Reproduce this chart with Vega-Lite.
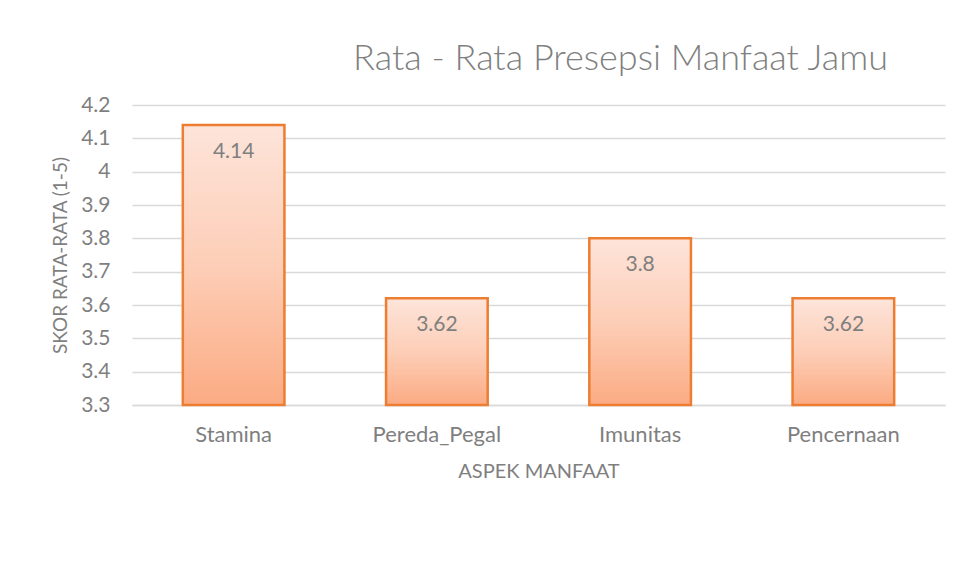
{
  "$schema": "https://vega.github.io/schema/vega-lite/v6.json",
  "autosize": "none",
  "width": 813,
  "height": 300,
  "padding": {"left": 132, "top": 105, "right": 13, "bottom": 172},
  "background": "white",
  "config": {
    "view": {"stroke": null},
    "font": "Lato"
  },
  "title": {
    "text": "Rata - Rata Presepsi  Manfaat Jamu",
    "fontSize": 36,
    "font": "Lato",
    "fontWeight": 300,
    "color": "#7f7f7f",
    "anchor": "middle",
    "dx": 82,
    "offset": 16
  },
  "data": {
    "values": [
      {"aspek": "Stamina", "skor": 4.14},
      {"aspek": "Pereda_Pegal", "skor": 3.62},
      {"aspek": "Imunitas", "skor": 3.8},
      {"aspek": "Pencernaan", "skor": 3.62}
    ]
  },
  "encoding": {
    "x": {
      "field": "aspek",
      "type": "nominal",
      "sort": null,
      "scale": {"paddingInner": 0.5, "paddingOuter": 0.25},
      "axis": {
        "title": "ASPEK MANFAAT",
        "titleFont": "Lato",
        "titleFontWeight": "normal",
        "titleFontSize": 20,
        "titleColor": "#7f7f7f",
        "titlePadding": 16,
        "labelAngle": 0,
        "labelFontSize": 22,
        "labelColor": "#7f7f7f",
        "labelPadding": 19,
        "ticks": false,
        "domainColor": "#d9d9d9",
        "domainWidth": 1.5
      }
    },
    "y": {
      "field": "skor",
      "type": "quantitative",
      "scale": {"domain": [3.3, 4.2], "zero": false, "clamp": true},
      "axis": {
        "title": "SKOR RATA-RATA (1-5)",
        "titleFontWeight": "normal",
        "titleFontSize": 19,
        "titleColor": "#7f7f7f",
        "titlePadding": 10,
        "values": [3.3, 3.4, 3.5, 3.6, 3.7, 3.8, 3.9, 4, 4.1, 4.2],
        "format": "~g",
        "labelFontSize": 21,
        "labelColor": "#7f7f7f",
        "labelPadding": 22,
        "ticks": false,
        "domain": false,
        "gridColor": "#d9d9d9",
        "gridWidth": 1.5
      }
    }
  },
  "layer": [
    {
      "mark": {
        "type": "bar",
        "stroke": "#ed7d31",
        "strokeWidth": 2.5,
        "fill": {
          "gradient": "linear",
          "x1": 0, "y1": 0, "x2": 0, "y2": 1,
          "stops": [
            {"offset": 0, "color": "#fde4da"},
            {"offset": 0.5, "color": "#fdceb7"},
            {"offset": 1, "color": "#fbab83"}
          ]
        }
      },
      "encoding": {"y2": {"datum": 3.3}}
    },
    {
      "mark": {"type": "text", "baseline": "middle", "dy": 27, "fontSize": 21, "color": "#7f7f7f"},
      "encoding": {"text": {"field": "skor", "type": "quantitative", "format": "~g"}}
    }
  ]
}
